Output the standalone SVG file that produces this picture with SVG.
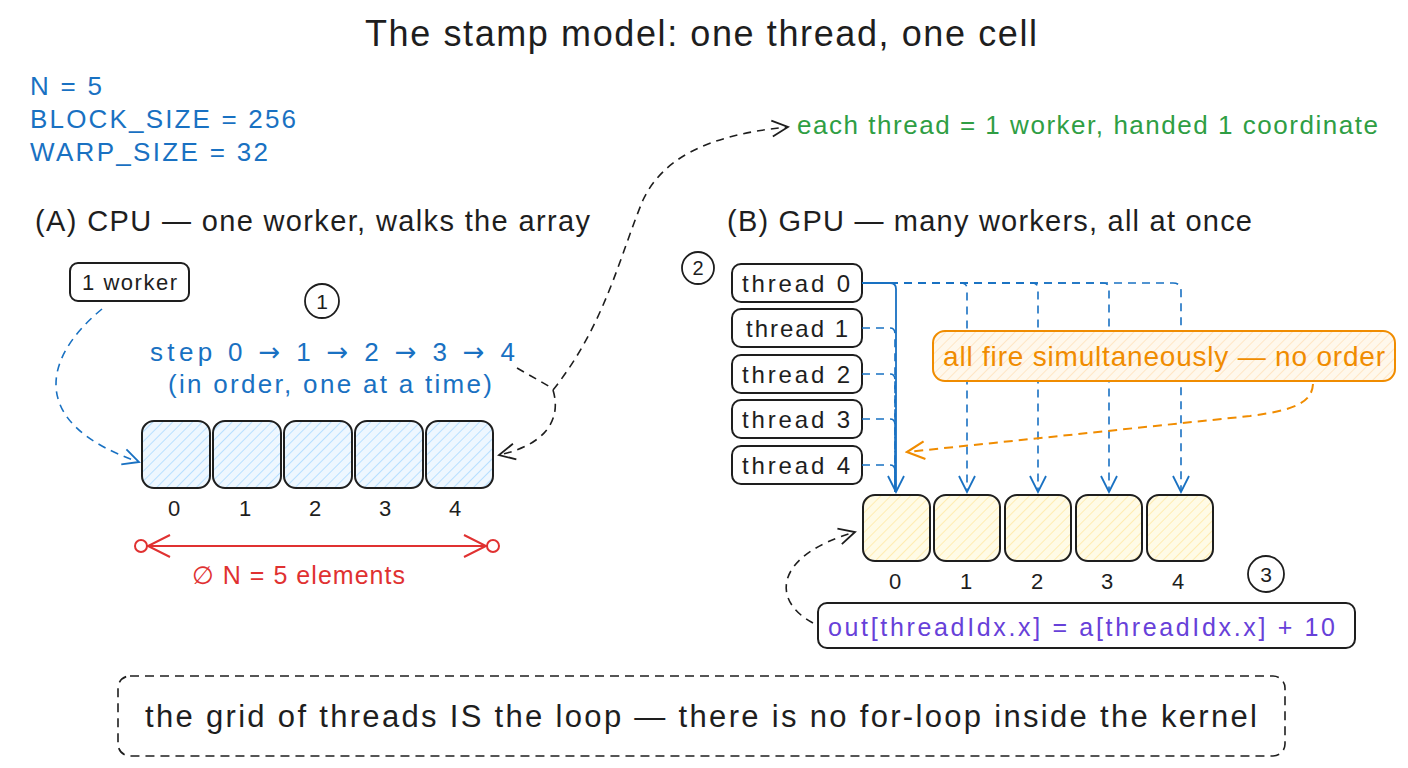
<svg xmlns="http://www.w3.org/2000/svg" width="1408" height="768" viewBox="0 0 1408 768">
<defs>
<style>
text{font-family:"Liberation Sans","DejaVu Sans",sans-serif;fill:#1e1e1e}
.arw{font-family:"DejaVu Sans",sans-serif}
.blue{fill:#1971c2}
.green{fill:#2f9e44}
.red{fill:#e03131}
.orange{fill:#f08c00}
.purple{fill:#6741d9}
.box{fill:#fff;stroke:#1e1e1e;stroke-width:2}
.cellb{fill:url(#hatchBlue);stroke:#1e1e1e;stroke-width:2}
.celly{fill:url(#hatchYellow);stroke:#1e1e1e;stroke-width:2}
.num{fill:#fff;stroke:#1e1e1e;stroke-width:1.8}
.dashBlue{fill:none;stroke:#1971c2;stroke-width:1.6;stroke-dasharray:8 6}
.solidBlue{fill:none;stroke:#1971c2;stroke-width:1.8}
.dashBlack{fill:none;stroke:#1e1e1e;stroke-width:1.6;stroke-dasharray:8 6}
.dashOrange{fill:none;stroke:#f08c00;stroke-width:2;stroke-dasharray:9 6}
</style>
<pattern id="hatchBlue" width="7" height="7" patternUnits="userSpaceOnUse" patternTransform="rotate(45)">
<rect width="7" height="7" fill="#eef7ff"/>
<line x1="0" y1="0" x2="0" y2="7" stroke="#a5d8ff" stroke-width="1.5"/>
</pattern>
<pattern id="hatchYellow" width="7" height="7" patternUnits="userSpaceOnUse" patternTransform="rotate(45)">
<rect width="7" height="7" fill="#fffbe6"/>
<line x1="0" y1="0" x2="0" y2="7" stroke="#ffe8a0" stroke-width="1.5"/>
</pattern>
<pattern id="hatchOrange" width="7" height="7" patternUnits="userSpaceOnUse" patternTransform="rotate(45)">
<rect width="7" height="7" fill="#fff8ec"/>
<line x1="0" y1="0" x2="0" y2="7" stroke="#ffe1b8" stroke-width="1.5"/>
</pattern>
<marker id="arrBlue" viewBox="0 0 20 20" refX="18" refY="10" markerWidth="20" markerHeight="20" markerUnits="userSpaceOnUse" orient="auto">
<path d="M2,2 L18,10 L2,18" fill="none" stroke="#1971c2" stroke-width="1.8"/>
</marker>
<marker id="arrBlack" viewBox="0 0 20 20" refX="18" refY="10" markerWidth="20" markerHeight="20" markerUnits="userSpaceOnUse" orient="auto">
<path d="M2,2 L18,10 L2,18" fill="none" stroke="#1e1e1e" stroke-width="1.8"/>
</marker>
<marker id="arrOrange" viewBox="0 0 20 20" refX="18" refY="10" markerWidth="22" markerHeight="22" markerUnits="userSpaceOnUse" orient="auto">
<path d="M2,2 L18,10 L2,18" fill="none" stroke="#f08c00" stroke-width="2"/>
</marker>
</defs>
<rect width="1408" height="768" fill="#ffffff"/>

<g id="title">
<text x="365" y="46" font-size="36" textLength="672">The stamp model: one thread, one cell</text>
</g>

<g id="constants">
<text x="30" y="95" font-size="26" class="blue" textLength="72">N = 5</text>
<text x="30" y="128" font-size="26" class="blue" textLength="266">BLOCK_SIZE = 256</text>
<text x="30" y="161" font-size="26" class="blue" textLength="238">WARP_SIZE = 32</text>
</g>

<g id="note-each-thread">
<text x="797" y="134" font-size="26" class="green" textLength="581">each thread = 1 worker, handed 1 coordinate</text>
</g>

<g id="heading-a">
<text x="35" y="231" font-size="29" textLength="555">(A) CPU — one worker, walks the array</text>
</g>
<g id="heading-b">
<text x="727" y="231" font-size="29" textLength="525">(B) GPU — many workers, all at once</text>
</g>

<g id="worker">
<rect x="70" y="263" width="119" height="38" rx="8" class="box"/>
<text x="82" y="290" font-size="22" textLength="95">1 worker</text>
</g>

<g id="badge-1">
<circle cx="322" cy="301" r="17" class="num"/>
<text x="322" y="309" font-size="21" text-anchor="middle">1</text>
</g>

<g id="steps">
<text x="150" y="361" font-size="26" class="blue" textLength="365">step 0 <tspan class="arw">→</tspan> 1 <tspan class="arw">→</tspan> 2 <tspan class="arw">→</tspan> 3 <tspan class="arw">→</tspan> 4</text>
<text x="168" y="393" font-size="26" class="blue" textLength="324">(in order, one at a time)</text>
</g>

<g id="cpu-array">
<rect x="142" y="421" width="68" height="67" rx="12" class="cellb"/>
<rect x="213" y="421" width="68" height="67" rx="12" class="cellb"/>
<rect x="284" y="421" width="68" height="67" rx="12" class="cellb"/>
<rect x="355" y="421" width="68" height="67" rx="12" class="cellb"/>
<rect x="426" y="421" width="67" height="67" rx="12" class="cellb"/>
<text x="174" y="516" font-size="22" text-anchor="middle">0</text>
<text x="245" y="516" font-size="22" text-anchor="middle">1</text>
<text x="315" y="516" font-size="22" text-anchor="middle">2</text>
<text x="385" y="516" font-size="22" text-anchor="middle">3</text>
<text x="455" y="516" font-size="22" text-anchor="middle">4</text>
</g>

<g id="size-measure">
<line x1="147" y1="546" x2="487" y2="546" stroke="#e03131" stroke-width="2"/>
<circle cx="141" cy="546" r="6" fill="#fff" stroke="#e03131" stroke-width="2"/>
<circle cx="493" cy="546" r="6" fill="#fff" stroke="#e03131" stroke-width="2"/>
<path d="M170,535 L148,546 L170,557" fill="none" stroke="#e03131" stroke-width="2"/>
<path d="M464,535 L486,546 L464,557" fill="none" stroke="#e03131" stroke-width="2"/>
<text x="192" y="584" font-size="25" class="red" textLength="213">∅ N = 5 elements</text>
</g>

<g id="badge-2">
<circle cx="698" cy="268" r="16" class="num"/>
<text x="698" y="275" font-size="20" text-anchor="middle">2</text>
</g>

<g id="thread-0"><rect x="732" y="264" width="130" height="38" rx="9" class="box"/><text x="742" y="292" font-size="24" textLength="108">thread 0</text></g>
<g id="thread-1"><rect x="732" y="309" width="130" height="38" rx="9" class="box"/><text x="746" y="337" font-size="24" textLength="102">thread 1</text></g>
<g id="thread-2"><rect x="732" y="355" width="130" height="38" rx="9" class="box"/><text x="742" y="383" font-size="24" textLength="108">thread 2</text></g>
<g id="thread-3"><rect x="732" y="400" width="130" height="38" rx="9" class="box"/><text x="742" y="428" font-size="24" textLength="108">thread 3</text></g>
<g id="thread-4"><rect x="732" y="446" width="130" height="38" rx="9" class="box"/><text x="742" y="474" font-size="24" textLength="108">thread 4</text></g>

<g id="gpu-array">
<rect x="863" y="495" width="67" height="66" rx="12" class="celly"/>
<rect x="934" y="495" width="66" height="66" rx="12" class="celly"/>
<rect x="1005" y="495" width="66" height="66" rx="12" class="celly"/>
<rect x="1076" y="495" width="66" height="66" rx="12" class="celly"/>
<rect x="1147" y="495" width="66" height="66" rx="12" class="celly"/>
<text x="895" y="589" font-size="22" text-anchor="middle">0</text>
<text x="966" y="589" font-size="22" text-anchor="middle">1</text>
<text x="1037" y="589" font-size="22" text-anchor="middle">2</text>
<text x="1107" y="589" font-size="22" text-anchor="middle">3</text>
<text x="1178" y="589" font-size="22" text-anchor="middle">4</text>
</g>

<g id="badge-3">
<circle cx="1266" cy="574" r="18" class="num"/>
<text x="1266" y="582" font-size="21" text-anchor="middle">3</text>
</g>

<g id="code">
<rect x="818" y="603" width="537" height="45" rx="9" class="box"/>
<text x="828" y="636" font-size="25" class="purple" textLength="507">out[threadIdx.x] = a[threadIdx.x] + 10</text>
</g>

<g id="connectors">
<path class="dashBlue" d="M102,309 C40,360 30,425 139,462" marker-end="url(#arrBlue)"/>
<path class="dashBlack" d="M517,368 L552,388"/>
<path class="dashBlack" d="M553,390 C562,420 545,445 499,455" marker-end="url(#arrBlack)"/>
<path class="dashBlack" d="M553,390 C605,325 620,255 643,200 C662,160 705,135 788,127" marker-end="url(#arrBlack)"/>
<path class="solidBlue" d="M862,283 L890,283 Q896,283 896,289 L896,492" marker-end="url(#arrBlue)"/>
<path class="dashBlue" d="M862,283 L961,283 Q967,283 967,289 L967,492" marker-end="url(#arrBlue)"/>
<path class="dashBlue" d="M862,283 L1032,283 Q1038,283 1038,289 L1038,492" marker-end="url(#arrBlue)"/>
<path class="dashBlue" d="M862,283 L1103,283 Q1109,283 1109,289 L1109,492" marker-end="url(#arrBlue)"/>
<path class="dashBlue" d="M862,283 L1173,283 Q1181,283 1181,291 L1181,492" marker-end="url(#arrBlue)"/>
<path class="dashBlue" d="M862,328 L890,328 Q895,328 895,334 L895,492"/>
<path class="dashBlue" d="M862,374 L890,374 Q895,374 895,380 L895,492"/>
<path class="dashBlue" d="M862,419 L890,419 Q895,419 895,425 L895,492"/>
<path class="dashBlue" d="M862,465 L890,465 Q895,465 895,471 L895,492"/>
<path class="dashOrange" d="M1313,384 C1312,402 1296,410 1250,416 L907,452" marker-end="url(#arrOrange)"/>
<path class="dashBlack" d="M813,623 C770,600 775,555 855,532" marker-end="url(#arrBlack)"/>
</g>

<g id="note-simultaneous">
<rect x="933" y="331" width="462" height="50" rx="12" fill="url(#hatchOrange)" stroke="#f08c00" stroke-width="2"/>
<text x="943" y="366" font-size="28" class="orange" textLength="442">all fire simultaneously — no order</text>
</g>

<g id="footer">
<rect x="118" y="676" width="1167" height="80" rx="12" fill="none" stroke="#1e1e1e" stroke-width="1.6" stroke-dasharray="9 6"/>
<text x="145" y="727" font-size="31" textLength="1112">the grid of threads IS the loop — there is no for-loop inside the kernel</text>
</g>
</svg>
